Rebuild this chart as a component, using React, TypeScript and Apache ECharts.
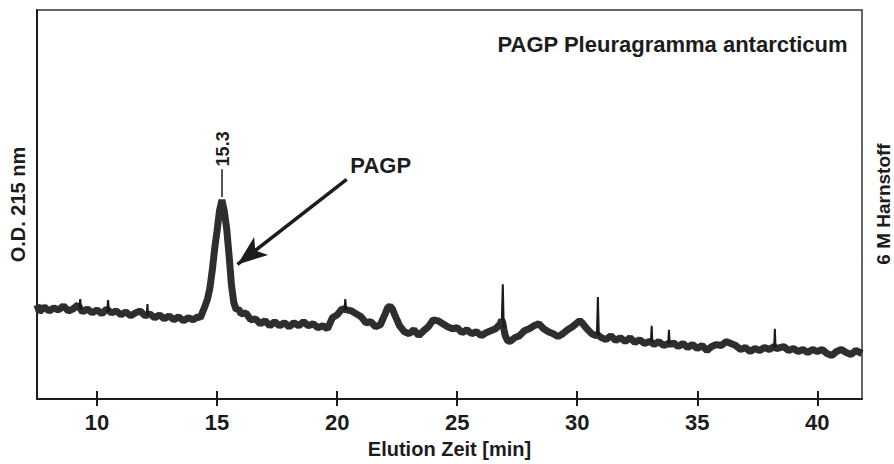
import React, { useEffect, useRef } from "react";
import * as echarts from "echarts";

// Elution time [min]
const elutionTime = [
  7.5, 7.6, 7.8, 8.0, 8.2, 8.4, 8.6, 8.8, 9.0, 9.2, 9.4, 9.6, 9.8,
  10.0, 10.2, 10.4, 10.6, 10.8, 11.0, 11.2, 11.4, 11.6, 11.8,
  12.0, 12.2, 12.4, 12.6, 12.8, 13.0, 13.2, 13.4, 13.6, 13.8,
  14.0, 14.2, 14.3, 14.4, 14.5, 14.6, 14.7, 14.8, 14.9,
  15.0, 15.1, 15.2, 15.3, 15.4, 15.5, 15.6, 15.7, 15.8, 15.9,
  16.0, 16.2, 16.4, 16.6, 16.8, 17.0, 17.2, 17.4, 17.6, 17.8,
  18.0, 18.2, 18.4, 18.6, 18.8, 19.0, 19.2, 19.4, 19.6, 19.8,
  20.0, 20.2, 20.4, 20.6, 20.8, 21.0, 21.2, 21.4, 21.6, 21.8,
  22.0, 22.1, 22.2, 22.3, 22.4, 22.6, 22.8, 23.0, 23.2, 23.4, 23.6, 23.8,
  24.0, 24.2, 24.4, 24.6, 24.8, 25.0, 25.2, 25.4, 25.6, 25.8,
  26.0, 26.2, 26.4, 26.6, 26.8, 26.85, 26.9, 26.95, 27.0, 27.1, 27.2, 27.4, 27.6, 27.8,
  28.0, 28.2, 28.4, 28.6, 28.8, 29.0, 29.2, 29.4, 29.6, 29.8,
  30.0, 30.1, 30.2, 30.4, 30.6, 30.8, 30.85, 30.9, 31.0, 31.2, 31.4, 31.6, 31.8,
  32.0, 32.2, 32.4, 32.6, 32.8, 33.0, 33.1, 33.2, 33.4, 33.6, 33.8, 33.9,
  34.0, 34.2, 34.4, 34.6, 34.8, 35.0, 35.2, 35.4, 35.6, 35.8,
  36.0, 36.2, 36.4, 36.6, 36.8, 37.0, 37.2, 37.4, 37.6, 37.8,
  38.0, 38.2, 38.25, 38.3, 38.6, 38.8, 39.0, 39.2, 39.4, 39.6, 39.8,
  40.0, 40.2, 40.4, 40.6, 40.8, 41.0, 41.2, 41.4, 41.6, 41.86,
];

// Absorbance at 215 nm (arbitrary units), noisy baseline band
const od215 = [
  95, 88, 93, 89, 92, 90, 94, 89, 91, 95, 88, 91, 87,
  90, 86, 91, 87, 89, 85, 88, 84, 87, 89,
  84, 86, 82, 85, 81, 84, 80, 83, 79, 82,
  80, 83, 82, 88, 94, 101, 112, 130, 152,
  170, 190, 201, 190, 172, 145, 115, 97, 90, 91,
  86, 87, 80, 81, 76, 79, 74, 78, 74, 77,
  73, 77, 74, 78, 74, 76, 72, 74, 71, 82,
  85, 91, 90, 89, 86, 83, 77, 78, 73, 75,
  86, 92, 94, 91, 85, 74, 68, 66, 70, 64, 69, 73,
  80, 79, 76, 73, 71, 72, 67, 70, 66, 68,
  64, 67, 69, 71, 76, 80, 77, 70, 64, 59, 58, 62, 64, 69,
  71, 74, 76, 71, 68, 66, 63, 66, 70, 73,
  77, 79, 77, 71, 66, 64, 65, 64, 62, 60, 64, 59, 62,
  58, 62, 57, 60, 56, 58, 57, 55, 58, 54, 56, 55,
  57, 53, 56, 52, 55, 51, 54, 49, 53, 55,
  54, 58, 56, 54, 50, 52, 48, 51, 49, 52,
  50, 53, 52, 51, 53, 49, 51, 48, 50, 47, 50,
  48, 50, 46, 44, 48, 50, 47, 45, 49, 46,
];

// Sharp single-point spikes (time, value); null values separate spikes
const spikeTime = [
  9.26, 9.3, 9.34, 9.35,
  10.42, 10.46, 10.5, 10.51,
  12.07, 12.1, 12.13, 12.14,
  20.3, 20.34, 20.38, 20.39,
  26.86, 26.9, 26.94, 26.95,
  30.82, 30.86, 30.9, 30.91,
  33.07, 33.1, 33.13, 33.14,
  33.79, 33.82, 33.85, 33.86,
  38.2, 38.23, 38.26,
];
const spikeValue = [
  91, 101, 90, null,
  88, 100, 88, null,
  85, 96, 84, null,
  90, 101, 90, null,
  80, 116, 72, null,
  65, 103, 64, null,
  58, 74, 57, null,
  56, 70, 56, null,
  52, 71, 52,
];

const tickValues = [10, 15, 20, 25, 30, 35, 40];

const titleText = "PAGP Pleuragramma antarcticum";
const xName = "Elution Zeit [min]";
const yName = "O.D. 215 nm";
const rightName = "6 M Harnstoff";

const peakTime = 15.2;
const peakLabel = "15.3";
const peakStem = [204, 232];
const peakLabelValue = 235;

const arrowLabel = "PAGP";
const arrowFrom = [20.4, 222];
const arrowTo = [15.85, 136];
const arrowLabelAt = [20.55, 236];

const FONT = "'Liberation Sans', Arial, Helvetica, sans-serif";

export default function App() {
  const ref = useRef<HTMLDivElement>(null);

  useEffect(() => {
    if (!ref.current) return;
    const chart = echarts.init(ref.current, undefined, { renderer: "svg" });
    const data = elutionTime.map((t, i) => [t, od215[i]]);
    const spikes = spikeTime.map((t, i) => [t, spikeValue[i]]);
    const ink = "#1c1c1c";

    const option: any = {
      animation: false,
      backgroundColor: "#ffffff",
      grid: {
        left: 37,
        right: 32,
        top: 10,
        bottom: 61,
        show: true,
        borderColor: "#333",
        borderWidth: 1.5,
      },
      xAxis: [
        {
          type: "value",
          min: 7.5,
          max: 41.86,
          position: "bottom",
          name: xName,
          nameLocation: "middle",
          nameGap: 40,
          nameTextStyle: { fontFamily: FONT, fontWeight: "bold", fontSize: 20, color: ink },
          axisLine: { show: true, lineStyle: { color: ink, width: 2 } },
          axisTick: { show: true, inside: false, length: 7, lineStyle: { color: ink, width: 2 }, customValues: tickValues },
          axisLabel: {
            show: true,
            margin: 12,
            fontFamily: FONT,
            fontWeight: "bold",
            fontSize: 22,
            color: ink,
            customValues: tickValues,
          },
          splitLine: { show: false },
        },
        {
          type: "value",
          min: 7.5,
          max: 41.86,
          position: "bottom",
          axisLine: { show: false },
          axisTick: { show: true, inside: true, length: 8, lineStyle: { color: ink, width: 2 }, customValues: tickValues },
          axisLabel: { show: false, customValues: tickValues },
          splitLine: { show: false },
        },
      ],
      yAxis: {
        type: "value",
        min: 0,
        max: 393,
        name: yName,
        nameLocation: "middle",
        nameRotate: 90,
        nameGap: 9,
        nameTextStyle: { fontFamily: FONT, fontWeight: "bold", fontSize: 20, color: ink },
        axisLine: { show: true, lineStyle: { color: ink, width: 2 } },
        axisTick: { show: false },
        axisLabel: { show: false },
        splitLine: { show: false },
      },
      series: [
        {
          type: "line",
          name: "PAGP trace",
          data,
          xAxisIndex: 0,
          yAxisIndex: 0,
          showSymbol: false,
          symbol: "none",
          z: 2,
          lineStyle: { color: "#2e2e2e", width: 7, join: "bevel" },
          markLine: {
            silent: true,
            animation: false,
            symbol: ["none", "none"],
            label: { show: false },
            data: [
              [
                { coord: [peakTime, peakStem[0]], symbol: "none", lineStyle: { color: ink, width: 1.5, type: "solid" } },
                { coord: [peakTime, peakStem[1]], symbol: "none" },
              ],
              [
                { coord: arrowFrom, symbol: "none", lineStyle: { color: ink, width: 3.5, type: "solid" } },
                { coord: arrowTo, symbol: "arrow", symbolSize: [17, 30] },
              ],
            ],
          },
        },
        {
          type: "line",
          name: "spikes",
          data: spikes,
          xAxisIndex: 0,
          yAxisIndex: 0,
          showSymbol: false,
          symbol: "none",
          connectNulls: false,
          z: 3,
          lineStyle: { color: "#1a1a1a", width: 2, join: "bevel" },
        },
      ],
    };
    chart.setOption(option);

    const pPeak = chart.convertToPixel({ xAxisIndex: 0, yAxisIndex: 0 }, [peakTime, peakLabelValue]) as number[];
    const pArrow = chart.convertToPixel({ xAxisIndex: 0, yAxisIndex: 0 }, arrowLabelAt) as number[];

    chart.setOption({
      graphic: [
        {
          type: "text",
          right: 46,
          top: 33,
          style: { text: titleText, font: `bold 22px ${FONT}`, fill: ink },
        },
        {
          type: "text",
          x: pArrow[0],
          y: pArrow[1],
          style: { text: arrowLabel, font: `bold 22px ${FONT}`, fill: ink, align: "left", verticalAlign: "middle" },
        },
        {
          type: "text",
          x: pPeak[0] + 1,
          y: pPeak[1],
          rotation: Math.PI / 2,
          style: { text: peakLabel, font: `bold 18px ${FONT}`, fill: ink, align: "left", verticalAlign: "middle" },
        },
        {
          type: "text",
          x: 883,
          y: 204,
          rotation: Math.PI / 2,
          style: { text: rightName, font: `bold 19px ${FONT}`, fill: ink, align: "center", verticalAlign: "middle" },
        },
      ],
    });

    return () => chart.dispose();
  }, []);

  return (
    <div
      ref={ref}
      style={{ position: "fixed", left: 0, top: 0, width: 894, height: 464, background: "#fff" }}
    />
  );
}
